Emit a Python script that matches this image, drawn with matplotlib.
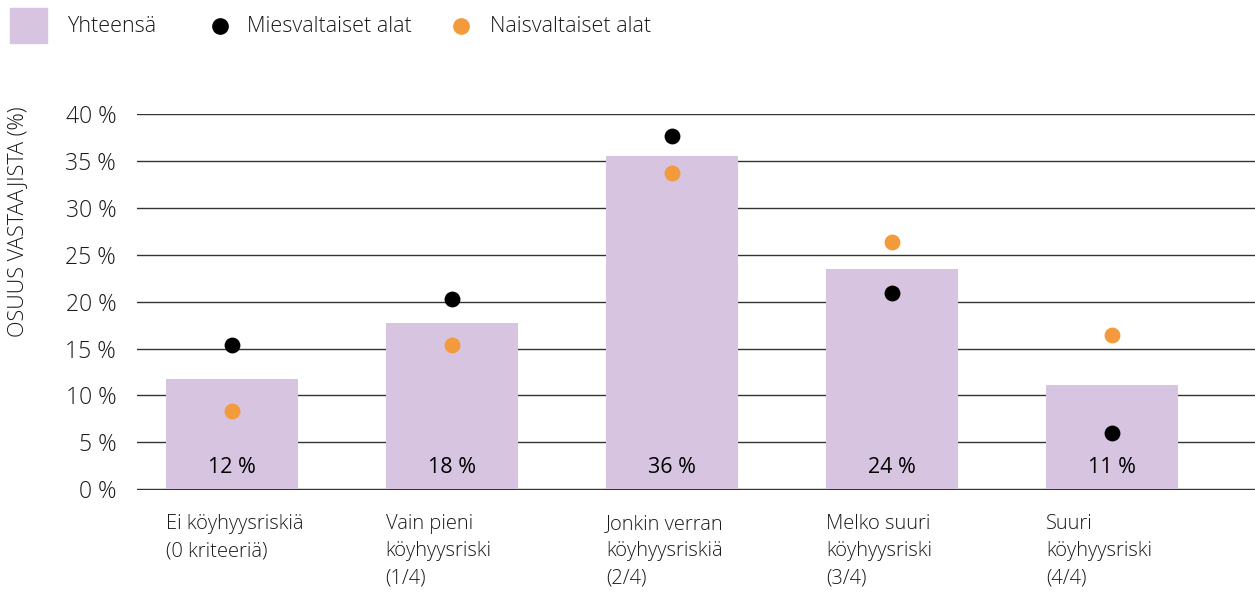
import numpy as np
import matplotlib.pyplot as plt
from matplotlib.patches import Rectangle

categories = ["Ei köyhyysriskiä\n(0 kriteeriä)",
              "Vain pieni\nköyhyysriski\n(1/4)",
              "Jonkin verran\nköyhyysriskiä\n(2/4)",
              "Melko suuri\nköyhyysriski\n(3/4)",
              "Suuri\nköyhyysriski\n(4/4)"]
total = [11.8, 17.7, 35.5, 23.5, 11.1]
total_labels = ["12 %", "18 %", "36 %", "24 %", "11 %"]
men = [15.4, 20.3, 37.7, 20.9, 6.0]
women = [8.3, 15.4, 33.7, 26.4, 16.4]
yticks = [0, 5, 10, 15, 20, 25, 30, 35, 40]

bar_c = "#d6c4e0"
orange = "#f39a3c"
txt_c = "#1a1a1a"
plt.rcParams['font.family'] = ['Open Sans', 'DejaVu Sans']
plt.rcParams['font.weight'] = 'light'

fig = plt.figure(figsize=(12.55, 5.94), dpi=100)
ax = fig.add_axes([137/1255, 1 - 490/594, 1 - 137/1255, (490 - 114)/594])

x = np.arange(len(categories))
ax.bar(x, total, width=0.6, color=bar_c, zorder=2)
ax.scatter(x, men, s=130, color="black", zorder=4, clip_on=False, linewidths=0)
ax.scatter(x, women, s=130, color=orange, zorder=4, clip_on=False, linewidths=0)

for xi, lab in zip(x, total_labels):
    ax.text(xi, 2.3, lab, ha='center', va='center', fontsize=15.5, color='black',
            fontweight='normal', zorder=5)

for xi, lab in zip(x, categories):
    ax.annotate(lab, xy=(xi - 0.3, 0), xycoords=('data', 'axes fraction'),
                xytext=(0, -17), textcoords='offset points',
                ha='left', va='top', fontsize=14.5, color=txt_c, linespacing=1.5)

ax.set_xlim(-0.43, 4.65)
ax.set_ylim(-0.08, 40)
ax.set_yticks(yticks)
ax.set_yticklabels([f"{t} %" for t in yticks], fontsize=16.5, color=txt_c)
ax.set_xticks([])
ax.tick_params(axis='y', length=0, pad=15)
ax.yaxis.grid(True, color='#333333', linewidth=1.0, zorder=1)
ax.set_axisbelow(True)
for s in ax.spines.values():
    s.set_visible(False)

fig.text(18/1255, 1 - 222/594, "OSUUS VASTAAJISTA (%)", rotation=90,
         ha='center', va='center', fontsize=15.5, color=txt_c)

# legend
fig.patches.append(Rectangle((10/1255, 1 - 43/594), 37/1255, 35/594,
                             transform=fig.transFigure, color=bar_c))
fig.text(67/1255, 1 - 26/594, "Yhteensä", ha='left', va='center', fontsize=15.5, color=txt_c)
fig.add_artist(plt.Line2D([220/1255], [1 - 26/594], marker='o', markersize=11,
                          color='black', linestyle='none', transform=fig.transFigure))
fig.text(247/1255, 1 - 26/594, "Miesvaltaiset alat", ha='left', va='center', fontsize=15.5, color=txt_c)
fig.add_artist(plt.Line2D([461/1255], [1 - 26/594], marker='o', markersize=11,
                          color=orange, linestyle='none', transform=fig.transFigure))
fig.text(490/1255, 1 - 26/594, "Naisvaltaiset alat", ha='left', va='center', fontsize=15.5, color=txt_c)

fig.savefig("out.png", dpi=100)
